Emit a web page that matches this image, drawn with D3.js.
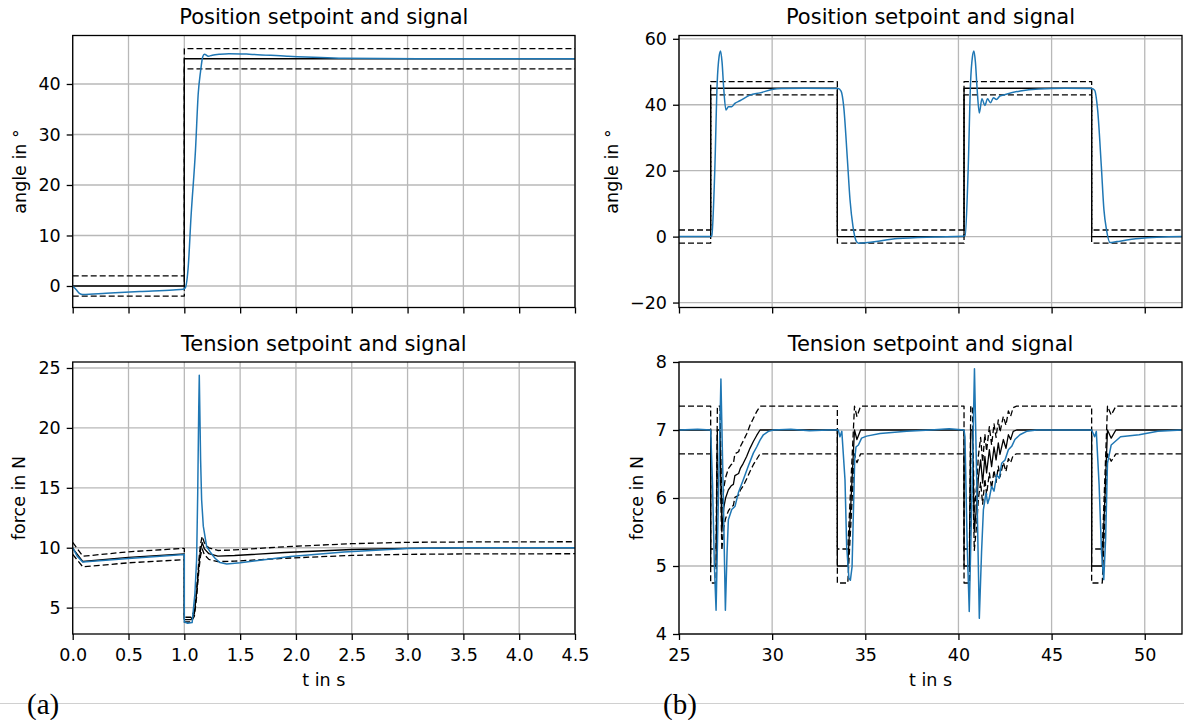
<!DOCTYPE html>
<html>
<head>
<meta charset="utf-8">
<script src="https://cdn.jsdelivr.net/npm/d3@7"></script>
<style>
  body { margin: 0; background: #fff; }
  text { font-family: "DejaVu Sans", sans-serif; fill: #000; }
</style>
</head>
<body>
<svg id="fig" width="1184" height="720"></svg>
<script>
// ---- (a) position: setpoint, bounds, signal ----
var aPosSetT = [0, 1.0, 1.0, 4.5];
var aPosSetV = [0, 0, 45, 45];
var aPosHiV = [2, 2, 47, 47];
var aPosLoV = [-2, -2, 43, 43];
var aPosSigT = [0, 0.03, 0.06, 0.09, 0.3, 0.6, 0.9, 0.99, 1.01, 1.035, 1.06, 1.1, 1.125, 1.145, 1.165, 1.18, 1.215, 1.25, 1.32, 1.4, 1.58, 1.92, 2.43, 3.1, 4.5];
var aPosSigV = [0, -0.7, -1.45, -1.7, -1.45, -1.1, -0.8, -0.66, -0.3, 3.8, 13.7, 26.9, 38.2, 42.4, 45.4, 45.9, 45.5, 45.7, 45.9, 46.0, 45.9, 45.5, 45.1, 45.0, 45.0];

// ---- (a) tension ----
var aTenSetT = [0, 0.09, 0.5, 1.0, 1.0, 1.06, 1.09, 1.11, 1.13, 1.145, 1.16, 1.18, 1.22, 1.3, 1.45, 1.9, 2.5, 3.0, 3.5, 4.5];
var aTenSetV = [9.95, 8.85, 9.2, 9.48, 4.0, 4.0, 4.5, 6.2, 8.5, 9.8, 10.43, 9.9, 9.5, 9.3, 9.35, 9.6, 9.85, 9.95, 9.98, 10.0];
var aTenHiV = [10.45, 9.29, 9.66, 9.95, 4.2, 4.2, 4.73, 6.51, 8.93, 10.29, 10.95, 10.4, 9.98, 9.77, 9.82, 10.08, 10.34, 10.45, 10.48, 10.5];
var aTenLoV = [9.45, 8.41, 8.74, 9.0, 3.8, 3.8, 4.28, 5.89, 8.08, 9.31, 9.91, 9.41, 9.03, 8.84, 8.88, 9.12, 9.36, 9.45, 9.48, 9.5];
var aTenSigT = [0, 0.04, 0.09, 0.5, 1.0, 1.0, 1.03, 1.07, 1.095, 1.11, 1.12, 1.129, 1.134, 1.146, 1.155, 1.17, 1.2, 1.23, 1.275, 1.32, 1.38, 1.5, 1.95, 2.43, 3.0, 3.5, 4.5];
var aTenSigV = [10.0, 9.3, 8.8, 9.1, 9.44, 3.8, 3.7, 3.75, 6.2, 8.98, 14.55, 21.5, 24.4, 17.3, 14.0, 11.8, 10.1, 9.67, 9.12, 8.76, 8.65, 8.75, 9.26, 9.64, 9.94, 10.0, 10.0];

// ---- (b) position ----
var bPosSetT = [25, 26.7, 26.7, 33.5, 33.5, 40.3, 40.3, 47.15, 47.15, 52];
var bPosSetV = [0, 0, 45, 45, 0, 0, 45, 45, 0, 0];
var bPosHiV = [2, 2, 47, 47, 2, 2, 47, 47, 2, 2];
var bPosLoV = [-2, -2, 43, 43, -2, -2, 43, 43, -2, -2];
var bPosSigT = [25, 26.7, 26.76, 26.92, 27.05, 27.15, 27.23, 27.31, 27.4, 27.52, 27.65, 27.83, 28.0, 28.27, 28.81, 29.35, 30.06, 30.5, 31.74, 33.54,
  33.70, 33.84, 34.04, 34.18, 34.34, 34.50, 34.64, 35.14, 36.73, 38.73, 40.22, 40.36, 40.52, 40.65, 40.75, 40.83, 40.91, 41.0, 41.12, 41.26,
  41.42, 41.56, 41.72, 41.88, 42.04, 42.22, 42.52, 43.32, 44.31, 45.71, 47.15, 47.31, 47.47, 47.67, 47.81, 47.95, 48.14, 48.50, 49.70, 52];
var bPosSigV = [0, 0, 0.3, 20, 46.7, 54.5, 56.3, 53, 45, 38.4, 39.4, 39.4, 40.4, 41.2, 42.9, 43.6, 44.7, 44.9, 45.0, 44.9,
  44.1, 39.5, 23.3, 11.2, 3.0, -1.2, -2.0, -1.8, -0.6, -0.1, 0.1, 0.3, 20, 46.7, 54.5, 56.3, 53, 45, 37.5, 41.8,
  39.8, 41.8, 40.6, 42.1, 41.6, 42.6, 43.1, 44.2, 44.8, 45.0, 44.9, 44.4, 38.5, 21.3, 8.1, 2, -1.8, -1.5, -0.6, 0];

// ---- (b) tension ----
var bTenSetT = [25, 26.7, 26.7, 26.99, 27.06, 27.2, 27.3, 27.4, 27.5, 27.65, 27.8, 27.92, 28.0, 28.2, 28.3, 28.45, 28.63, 28.81, 28.99, 29.17, 29.35,
  33.5, 33.5, 34.06, 34.42, 34.55, 34.75,
  40.3, 40.3, 40.59, 40.66, 40.75, 40.85, 40.98, 41.07, 41.19, 41.30, 41.42, 41.51, 41.66, 41.78, 41.91, 42.02, 42.14, 42.23, 42.41, 42.55, 42.68, 42.80, 42.94, 43.12,
  47.15, 47.15, 47.72, 48.0, 48.2, 48.45, 52];
var bTenSetV = [7, 7, 5, 5, 7, 7, 5.5, 5.85, 6.0, 6.12, 6.18, 6.2, 6.33, 6.36, 6.44, 6.51, 6.61, 6.73, 6.83, 6.92, 7.0,
  7, 5, 5, 7.0, 6.86, 7.0,
  7, 5, 5, 7.0, 7.0, 5.5, 5.9, 6.3, 6.56, 6.22, 6.61, 6.37, 6.71, 6.46, 6.75, 6.56, 6.81, 6.64, 6.86, 6.73, 6.93, 6.86, 6.98, 7.0,
  7, 5, 5, 7.0, 6.88, 7.0, 7];
var bTenHiV = [7.35, 7.35, 5.25, 5.25, 7.35, 7.35, 5.78, 6.14, 6.3, 6.43, 6.49, 6.51, 6.65, 6.68, 6.76, 6.84, 6.94, 7.07, 7.17, 7.27, 7.35,
  7.35, 5.25, 5.25, 7.35, 7.2, 7.35,
  7.35, 5.25, 5.25, 7.35, 7.35, 5.78, 6.2, 6.62, 6.89, 6.53, 6.94, 6.69, 7.05, 6.78, 7.09, 6.89, 7.15, 6.97, 7.2, 7.07, 7.28, 7.2, 7.33, 7.35,
  7.35, 5.25, 5.25, 7.35, 7.22, 7.35, 7.35];
var bTenLoV = [6.65, 6.65, 4.75, 4.75, 6.65, 6.65, 5.23, 5.56, 5.7, 5.81, 5.87, 5.89, 6.01, 6.04, 6.12, 6.18, 6.28, 6.39, 6.49, 6.57, 6.65,
  6.65, 4.75, 4.75, 6.65, 6.52, 6.65,
  6.65, 4.75, 4.75, 6.65, 6.65, 5.23, 5.61, 5.99, 6.23, 5.91, 6.28, 6.05, 6.37, 6.14, 6.41, 6.23, 6.47, 6.31, 6.52, 6.39, 6.58, 6.52, 6.63, 6.65,
  6.65, 4.75, 4.75, 6.65, 6.54, 6.65, 6.65];
var bTenSigT = [25, 26.0, 26.7, 26.8, 26.9, 26.99, 27.1, 27.25, 27.38, 27.49, 27.58, 27.65, 27.83, 28.01, 28.19, 28.45, 28.72, 28.99, 29.17, 29.35,
  29.53, 29.8, 30.07, 31.0, 32.0, 33.0, 33.55, 33.64, 33.74, 33.91, 34.0, 34.12, 34.2, 34.29, 34.36, 34.43, 34.5, 34.63, 34.8, 35.07,
  35.79, 37.22, 38.5, 39.5, 40.3, 40.35, 40.47, 40.58, 40.72, 40.86, 41.0, 41.12, 41.24, 41.34, 41.48, 41.57, 41.66, 41.78, 41.91, 42.05,
  42.19, 42.32, 42.5, 42.68, 42.86, 43.03, 43.3, 43.66, 44.2, 45.5, 47.15, 47.31, 47.4, 47.55, 47.68, 47.8, 47.9, 48.0, 48.2, 48.7,
  49.7, 50.7, 52];
var bTenSigV = [7.0, 7.01, 7.0, 6.2, 5.0, 4.35, 5.8, 7.75, 6.0, 4.35, 5.2, 5.68, 5.83, 5.88, 6.08, 6.27, 6.47, 6.66, 6.75, 6.85,
  6.93, 6.98, 7.0, 7.01, 6.99, 7.0, 7.0, 6.9, 6.98, 6.27, 5.29, 4.82, 4.79, 4.99, 5.77, 6.56, 6.75, 6.78, 6.88, 6.91,
  6.95, 6.98, 7.0, 7.02, 7.0, 6.9, 5.3, 4.33, 6.0, 7.9, 6.0, 4.23, 5.2, 5.83, 6.07, 5.92, 6.0, 6.17, 6.10, 6.34,
  6.29, 6.51, 6.56, 6.71, 6.76, 6.86, 6.93, 6.98, 7.0, 7.0, 7.0, 6.9, 6.98, 6.2, 5.2, 4.8, 5.4, 6.51, 6.78, 6.9,
  6.93, 6.98, 7.0];

// ticks
var aTimeTicks = [0, 0.5, 1.0, 1.5, 2.0, 2.5, 3.0, 3.5, 4.0, 4.5];
var bTimeTicks = [25, 30, 35, 40, 45, 50];
var aPosTicks = [0, 10, 20, 30, 40];
var bPosTicks = [-20, 0, 20, 40, 60];
var aTenTicks = [5, 10, 15, 20, 25];
var bTenTicks = [4, 5, 6, 7, 8];

var BLUE = "#1f77b4";
var svg = d3.select("#fig");

function zip(t, v) { return t.map(function (d, i) { return [d, v[i]]; }); }

function drawPanel(p) {
  var x = d3.scaleLinear().domain(p.xDomain).range([p.left, p.right]);
  var y = d3.scaleLinear().domain(p.yDomain).range([p.bottom, p.top]);
  var g = svg.append("g");

  svg.append("clipPath").attr("id", "clip" + p.id).append("rect")
    .attr("x", p.left).attr("y", p.top)
    .attr("width", p.right - p.left).attr("height", p.bottom - p.top);

  // grid
  g.selectAll("line.gx").data(p.xTicks).enter().append("line")
    .attr("x1", function (d) { return x(d); }).attr("x2", function (d) { return x(d); })
    .attr("y1", p.top).attr("y2", p.bottom)
    .attr("stroke", "#b8b8b8").attr("stroke-width", 1.3);
  g.selectAll("line.gy").data(p.yTicks).enter().append("line")
    .attr("y1", function (d) { return y(d); }).attr("y2", function (d) { return y(d); })
    .attr("x1", p.left).attr("x2", p.right)
    .attr("stroke", "#b8b8b8").attr("stroke-width", 1.3);

  // series
  var lines = g.append("g").attr("clip-path", "url(#clip" + p.id + ")");
  p.series.forEach(function (s) {
    var line = d3.line()
      .x(function (d) { return x(d[0]); })
      .y(function (d) { return y(d[1]); })
      .curve(s.smooth ? d3.curveMonotoneX : d3.curveLinear);
    lines.append("path")
      .datum(zip(s.t, s.v))
      .attr("d", line)
      .attr("fill", "none")
      .attr("stroke", s.color)
      .attr("stroke-width", s.width)
      .attr("stroke-dasharray", s.dash || null)
      .attr("stroke-linejoin", "round");
  });

  // axes
  var xAxis = d3.axisBottom(x).tickValues(p.xTicks).tickSizeInner(6).tickSizeOuter(0).tickPadding(8.5)
    .tickFormat(p.xFormat ? d3.format(p.xFormat) : "");
  var yAxis = d3.axisLeft(y).tickValues(p.yTicks).tickSizeInner(6).tickSizeOuter(0).tickPadding(6)
    .tickFormat(d3.format("d"));
  var gx = g.append("g").attr("transform", "translate(0," + p.bottom + ")").call(xAxis);
  var gy = g.append("g").attr("transform", "translate(" + p.left + ",0)").call(yAxis);
  [gx, gy].forEach(function (a) {
    a.attr("font-family", null).attr("font-size", null);
    a.select(".domain").remove();
    a.selectAll(".tick line").attr("stroke", "#000").attr("stroke-width", 1.3);
    a.selectAll(".tick text").style("font-size", "17.5px");
  });

  // frame
  g.append("rect")
    .attr("x", p.left).attr("y", p.top)
    .attr("width", p.right - p.left).attr("height", p.bottom - p.top)
    .attr("fill", "none").attr("stroke", "#000").attr("stroke-width", 1.3);

  // title
  g.append("text")
    .attr("x", (p.left + p.right) / 2).attr("y", p.titleY)
    .attr("text-anchor", "middle").style("font-size", "21px")
    .text(p.title);

  // y label
  g.append("text")
    .attr("transform", "translate(" + p.yLabelX + "," + (p.top + p.bottom) / 2 + ") rotate(-90)")
    .attr("dy", "0.35em").attr("text-anchor", "middle").style("font-size", "17.5px")
    .text(p.yLabel);

  if (p.xLabel) {
    g.append("text")
      .attr("x", (p.left + p.right) / 2).attr("y", 680).attr("dy", "0.35em")
      .attr("text-anchor", "middle").style("font-size", "17.5px")
      .text(p.xLabel);
  }
}

drawPanel({
  id: "at", left: 72.7, right: 575, top: 35.5, bottom: 307.5,
  xDomain: [0, 4.5], yDomain: [-4.26, 49.6], xTicks: aTimeTicks, yTicks: aPosTicks,
  title: "Position setpoint and signal", titleY: 24, yLabel: "angle in °", yLabelX: 20,
  series: [
    { t: aPosSetT, v: aPosHiV, color: "#000", width: 1.3, dash: "6,3" },
    { t: aPosSetT, v: aPosLoV, color: "#000", width: 1.3, dash: "6,3" },
    { t: aPosSetT, v: aPosSetV, color: "#000", width: 1.3 },
    { t: aPosSigT, v: aPosSigV, color: BLUE, width: 1.5, smooth: true }
  ]
});

drawPanel({
  id: "bt", left: 679, right: 1182, top: 35.5, bottom: 307.5,
  xDomain: [25, 52], yDomain: [-21.5, 61], xTicks: bTimeTicks, yTicks: bPosTicks,
  title: "Position setpoint and signal", titleY: 24, yLabel: "angle in °", yLabelX: 612,
  series: [
    { t: bPosSetT, v: bPosHiV, color: "#000", width: 1.3, dash: "6,3" },
    { t: bPosSetT, v: bPosLoV, color: "#000", width: 1.3, dash: "6,3" },
    { t: bPosSetT, v: bPosSetV, color: "#000", width: 1.3 },
    { t: bPosSigT, v: bPosSigV, color: BLUE, width: 1.5, smooth: true }
  ]
});

drawPanel({
  id: "ab", left: 72.7, right: 575, top: 362, bottom: 634,
  xDomain: [0, 4.5], yDomain: [2.8, 25.5], xTicks: aTimeTicks, yTicks: aTenTicks, xFormat: ".1f",
  title: "Tension setpoint and signal", titleY: 351, yLabel: "force in N", yLabelX: 19, xLabel: "t in s",
  series: [
    { t: aTenSetT, v: aTenHiV, color: "#000", width: 1.3, dash: "6,3" },
    { t: aTenSetT, v: aTenLoV, color: "#000", width: 1.3, dash: "6,3" },
    { t: aTenSetT, v: aTenSetV, color: "#000", width: 1.3 },
    { t: aTenSigT, v: aTenSigV, color: BLUE, width: 1.5 }
  ]
});

drawPanel({
  id: "bb", left: 679, right: 1182, top: 362, bottom: 634,
  xDomain: [25, 52], yDomain: [4, 8], xTicks: bTimeTicks, yTicks: bTenTicks, xFormat: "d",
  title: "Tension setpoint and signal", titleY: 351, yLabel: "force in N", yLabelX: 637, xLabel: "t in s",
  series: [
    { t: bTenSetT, v: bTenHiV, color: "#000", width: 1.3, dash: "6,3" },
    { t: bTenSetT, v: bTenLoV, color: "#000", width: 1.3, dash: "6,3" },
    { t: bTenSetT, v: bTenSetV, color: "#000", width: 1.3 },
    { t: bTenSigT, v: bTenSigV, color: BLUE, width: 1.5 }
  ]
});

// page rule and sub-figure letters
svg.append("line").attr("x1", 0).attr("x2", 1184).attr("y1", 703.5).attr("y2", 703.5)
  .attr("stroke", "#d0d0d0").attr("stroke-width", 1);
svg.append("text").attr("x", 27).attr("y", 714)
  .style("font-family", "'Liberation Serif', 'Times New Roman', serif").style("font-size", "29px")
  .text("(a)");
svg.append("text").attr("x", 663).attr("y", 714)
  .style("font-family", "'Liberation Serif', 'Times New Roman', serif").style("font-size", "29px")
  .text("(b)");
</script>
</body>
</html>
